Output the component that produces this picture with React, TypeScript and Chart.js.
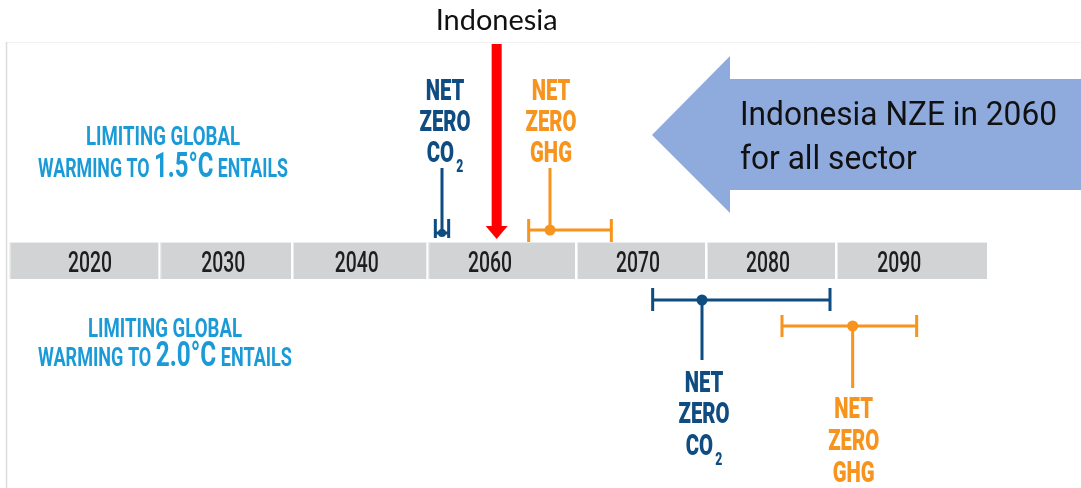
import React, { useEffect, useRef } from "react";
import { Chart, registerables } from "chart.js";

Chart.register(...registerables);

// ---------- data ----------
const tickLabels = ["2020", "2030", "2040", "2060", "2070", "2080", "2090"];
const tickYears = [2020, 2030, 2040, 2050, 2061.1, 2070.85, 2080.7];
const cellEdges = [2013.9, 2025.2, 2035.15, 2045.3, 2056.45, 2066.2, 2075.95, 2087.35];

const pathways = ["1.5°C", "2.0°C"];
const co2Best = [2046.4, 2065.9];
const co2Low = [2045.9, 2062.2];
const co2High = [2046.9, 2075.5];
const ghgBest = [2054.5, 2077.2];
const ghgLow = [2052.9, 2071.9];
const ghgHigh = [2059.1, 2082.0];
const indonesiaTarget = 2050.5;
const indonesiaLabel = "Indonesia";
const arrowText = ["Indonesia NZE in 2060", "for all sector"];

// ---------- styles / layout ----------
const C_CO2 = "#0f4c81";
const C_GHG = "#f7941d";
const C_CYAN = "#1a9bd7";
const C_CELL = "#d1d3d4";
const C_RED = "#ff0000";
const C_ARROW = "#8faadc";
const X_MIN = 2013.25;
const X_MAX = 2094.325;
const W = 1081;
const H = 488;
// vertical layout (y scale units = rows, top = 0)
const L = {
  barTop: 242,
  barBot: 279,
  labelBase: 272,
  co2Row: [233, 300],
  ghgRow: [230, 326],
  co2Cap: [[219, 238], [288, 311]],
  ghgCap: [[219, 242], [315, 337]],
  co2Stem: [168, 360],
  ghgStem: [168, 388],
  co2Text: [[100, 131, 162], [392, 423, 455]],
  ghgText: [[100, 131, 162], [418, 450, 482]],
  co2TextDx: [3, 2],
  ghgTextDx: [1, 1],
};

function ctext(ctx: CanvasRenderingContext2D, text: string, x: number, y: number, font: string, color: string, sx: number, align = "center") {
  ctx.save();
  ctx.font = font;
  ctx.fillStyle = color;
  ctx.textBaseline = "alphabetic";
  ctx.textAlign = "left";
  const w = ctx.measureText(text).width * sx;
  const left = align === "center" ? x - w / 2 : align === "right" ? x - w : x;
  ctx.translate(left, y);
  ctx.scale(sx, 1);
  ctx.fillText(text, 0, 0);
  ctx.restore();
  return w;
}
function mw(ctx: CanvasRenderingContext2D, text: string, font: string) {
  ctx.save();
  ctx.font = font;
  const w = ctx.measureText(text).width;
  ctx.restore();
  return w;
}

const drawPlugin = {
  id: "infographic",
  beforeDatasetsDraw(chart: any) {
    const ctx: CanvasRenderingContext2D = chart.ctx;
    const xs = chart.scales.x;
    const ys = chart.scales.y;
    const X = (v: number) => xs.getPixelForValue(v);
    const Y = (v: number) => ys.getPixelForValue(v);

    ctx.save();
    // faint slide frame
    ctx.strokeStyle = "#f1f1f1";
    ctx.lineWidth = 1;
    ctx.beginPath();
    ctx.moveTo(6, Y(42) + 0.5);
    ctx.lineTo(W, Y(42) + 0.5);
    ctx.stroke();
    ctx.strokeStyle = "#dcdcdc";
    ctx.lineWidth = 1.5;
    ctx.beginPath();
    ctx.moveTo(6.5, Y(42));
    ctx.lineTo(6.5, H);
    ctx.stroke();

    // timeline cells
    const numFont = "500 30px Roboto";
    const numSx = 44 / mw(ctx, "2020", numFont);
    for (let i = 0; i < tickLabels.length; i++) {
      const a = X(cellEdges[i]) + 1;
      const b = X(cellEdges[i + 1]) - 1;
      ctx.fillStyle = C_CELL;
      ctx.fillRect(a, Y(L.barTop), b - a, Y(L.barBot) - Y(L.barTop));
      ctx.fillStyle = "#ececec";
      ctx.fillRect(a, Y(L.barTop), b - a, 1);
      ctx.fillRect(a, Y(L.barTop), 1, Y(L.barBot) - Y(L.barTop));
      ctext(ctx, tickLabels[i], X(tickYears[i]), Y(L.labelBase), numFont, "#1e1e1e", numSx);
    }

    // left cyan captions
    const smallF = "bold 26px Roboto";
    const bigF = "bold 35px Roboto";
    const capSx = 154 / mw(ctx, "LIMITING GLOBAL", smallF);
    const captionRows = [
      { cx: 163, b1: 145, b2: 177, w2: 250 },
      { cx: 165, b1: 337, b2: 366, w2: 254 },
    ];
    pathways.forEach((p, i) => {
      const r = captionRows[i];
      ctext(ctx, "LIMITING GLOBAL", r.cx, Y(r.b1), smallF, C_CYAN, capSx);
      const segs = [
        { t: "WARMING TO ", f: smallF },
        { t: p, f: bigF },
        { t: " ENTAILS", f: smallF },
      ];
      const nat = segs.reduce((s, g) => s + mw(ctx, g.t, g.f), 0);
      const sx2 = r.w2 / nat;
      let x = r.cx - r.w2 / 2;
      segs.forEach((g) => {
        x += ctext(ctx, g.t, x, Y(r.b2), g.f, C_CYAN, sx2, "left");
      });
    });

    // error bars + stems
    const drawBar = (lo: number, hi: number, best: number, row: number, cap: number[], stemEnd: number, color: string) => {
      ctx.strokeStyle = color;
      ctx.lineWidth = 3;
      ctx.lineCap = "butt";
      ctx.beginPath();
      ctx.moveTo(X(lo), Y(row));
      ctx.lineTo(X(hi), Y(row));
      ctx.moveTo(X(lo), Y(cap[0]));
      ctx.lineTo(X(lo), Y(cap[1]));
      ctx.moveTo(X(hi), Y(cap[0]));
      ctx.lineTo(X(hi), Y(cap[1]));
      ctx.moveTo(X(best), Y(row));
      ctx.lineTo(X(best), Y(stemEnd));
      ctx.stroke();
    };
    for (let i = 0; i < 2; i++) {
      drawBar(co2Low[i], co2High[i], co2Best[i], L.co2Row[i], L.co2Cap[i], L.co2Stem[i], C_CO2);
      drawBar(ghgLow[i], ghgHigh[i], ghgBest[i], L.ghgRow[i], L.ghgCap[i], L.ghgStem[i], C_GHG);
    }

    // NET ZERO labels
    const nzF = "900 30px Roboto";
    const subF = "900 18px Roboto";
    const nzSx = 51 / mw(ctx, "ZERO", nzF);
    for (let i = 0; i < 2; i++) {
      const cx = X(co2Best[i]) + L.co2TextDx[i];
      const b = L.co2Text[i];
      ctext(ctx, "NET", cx, Y(b[0]), nzF, C_CO2, nzSx);
      ctext(ctx, "ZERO", cx, Y(b[1]), nzF, C_CO2, nzSx);
      const wCO = mw(ctx, "CO", nzF) * nzSx;
      const w2 = mw(ctx, "2", subF) * nzSx;
      const left = cx - (wCO + 2 + w2) / 2;
      ctext(ctx, "CO", left, Y(b[2]), nzF, C_CO2, nzSx, "left");
      ctext(ctx, "2", left + wCO + 2, Y(b[2] + 10), subF, C_CO2, nzSx, "left");

      const gx = X(ghgBest[i]) + L.ghgTextDx[i];
      const g = L.ghgText[i];
      ctext(ctx, "NET", gx, Y(g[0]), nzF, C_GHG, nzSx);
      ctext(ctx, "ZERO", gx, Y(g[1]), nzF, C_GHG, nzSx);
      ctext(ctx, "GHG", gx, Y(g[2]), nzF, C_GHG, nzSx);
    }

    // Indonesia red arrow
    const ax = X(indonesiaTarget);
    ctx.fillStyle = C_RED;
    ctx.fillRect(ax - 5, Y(44), 10, Y(227) - Y(44));
    ctx.beginPath();
    ctx.moveTo(ax - 11, Y(226));
    ctx.lineTo(ax + 11, Y(226));
    ctx.lineTo(ax, Y(239));
    ctx.closePath();
    ctx.fill();
    ctext(ctx, indonesiaLabel, ax, Y(30), "28px Lato", "#111111", 122 / mw(ctx, indonesiaLabel, "28px Lato"));

    // big blue arrow
    ctx.fillStyle = C_ARROW;
    ctx.beginPath();
    ctx.moveTo(652, Y(135));
    ctx.lineTo(730, Y(56));
    ctx.lineTo(730, Y(79));
    ctx.lineTo(W, Y(79));
    ctx.lineTo(W, Y(190));
    ctx.lineTo(730, Y(190));
    ctx.lineTo(730, Y(213));
    ctx.closePath();
    ctx.fill();
    const aF = "34px Roboto";
    const aSx = 317 / mw(ctx, arrowText[0], aF);
    ctext(ctx, arrowText[0], 740, Y(125), aF, "#111111", aSx, "left");
    ctext(ctx, arrowText[1], 740, Y(169), aF, "#111111", aSx, "left");
    ctx.restore();
  },
};

export default function App() {
  const ref = useRef<HTMLCanvasElement | null>(null);
  useEffect(() => {
    if (!ref.current) return;
    const pts = [
      { x: co2Best[0], y: L.co2Row[0] },
      { x: ghgBest[0], y: L.ghgRow[0] },
      { x: co2Best[1], y: L.co2Row[1] },
      { x: ghgBest[1], y: L.ghgRow[1] },
    ];
    const chart = new Chart(ref.current, {
      type: "scatter",
      data: {
        datasets: [
          {
            label: "Net zero",
            data: pts,
            pointRadius: [4, 5.5, 5.5, 5.5],
            pointBackgroundColor: [C_CO2, C_GHG, C_CO2, C_GHG],
            pointBorderWidth: 0,
            clip: false as any,
          },
        ],
      },
      options: {
        responsive: false,
        animation: false,
        devicePixelRatio: 1,
        layout: { padding: 0, autoPadding: false },
        plugins: { legend: { display: false }, tooltip: { enabled: false } },
        scales: {
          x: { type: "linear", min: X_MIN, max: X_MAX, display: false },
          y: { type: "linear", min: 0, max: H, reverse: true, display: false },
        },
      },
      plugins: [drawPlugin],
    });
    return () => chart.destroy();
  }, []);
  return (
    <div style={{ position: "fixed", left: 0, top: 0, width: W, height: H, background: "#fff" }}>
      <canvas ref={ref} width={W} height={H} style={{ width: W, height: H, display: "block" }} />
    </div>
  );
}
